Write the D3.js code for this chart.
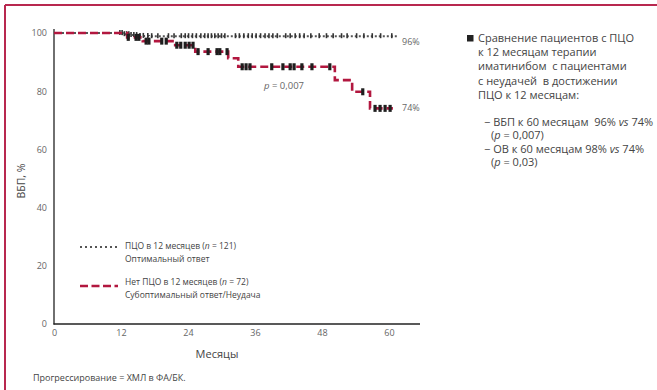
<!DOCTYPE html>
<html><head><meta charset="utf-8">
<script src="https://cdn.jsdelivr.net/npm/d3@7"></script>
<style>body{margin:0;background:#fff}text{font-family:"Open Sans",sans-serif}</style>
</head><body><svg id="c" width="657" height="390"></svg>
<script>
// Data
const xTicks = [0, 12, 24, 36, 48, 60];
const yTicks = [0, 20, 40, 60, 80, 100];
// Red dashed: no PCyR at 12 months (n=72)
const redTimes = [0, 13.1, 15.9, 21.7, 25.3, 31.2, 33.0, 50.3, 53.4, 56.6];
const redSurv  = [100, 98.5, 97.2, 95.8, 93.6, 91.3, 88.4, 83.8, 79.8, 74.1];
const redEnd = 60.7;
const redCensor = [13.3,14.7,15.2,16.5,17.0,19.3,20.1,22.0,22.7,23.5,24.2,24.9,25.8,27.6,29.2,29.7,31.0,33.7,34.4,35.1,39.0,41.0,42.3,43.0,44.4,46.2,49.4,55.3,57.5,58.4,59.3,60.2];
// Dotted: PCyR at 12 months (n=121)
const grayTimes = [0, 12.3, 13.5, 15.0, 17.0];
const graySurv  = [100, 99.6, 99.3, 99.0, 98.9];
const grayEnd = 61.4;
const grayCensor = [11.8,12.2,12.6,13.0,13.4,13.8,14.3,14.8,15.4,16.0,16.8,17.5,18.6,20.5,21.5,22.8,23.5,24.1,24.8,25.5,26.3,27.0,27.6,28.2,28.8,29.4,30.0,30.6,32.5,33.2,34.0,34.8,35.5,36.2,37.0,37.8,38.5,39.2,40.0,41.5,42.3,43.2,44.0,44.8,46.0,47.5,48.8,50.0,51.5,52.5,54.2,55.5,57.0,58.5,60.5];
const endLabels = ["96%", "74%"];

const RED = "#b2173f";
const svg = d3.select("#c");
const x = d3.scaleLinear().domain([0, 60]).range([54, 389]);
const y = d3.scaleLinear().domain([0, 100]).range([324, 33]);

// frame
svg.append("line").attr("x1",5).attr("x2",657).attr("y1",5).attr("y2",5).attr("stroke","#b8284f").attr("stroke-width",2);
svg.append("line").attr("x1",5).attr("x2",5).attr("y1",5).attr("y2",390).attr("stroke","#b8284f").attr("stroke-width",2);

// axes
const ya = svg.append("g").attr("transform","translate(54,0)").call(d3.axisLeft(y).tickValues(yTicks).tickSize(0).tickPadding(7));
ya.select(".domain").remove();
ya.selectAll("text").attr("fill","#666").style("font-size","9px");
const xa = svg.append("g").attr("transform","translate(0,324)").call(d3.axisBottom(x).tickValues(xTicks).tickSize(0).tickPadding(6));
xa.select(".domain").remove();
xa.selectAll("text").attr("fill","#666").style("font-size","9px");
svg.append("line").attr("x1",54).attr("x2",54).attr("y1",29).attr("y2",324.5).attr("stroke","#222").attr("stroke-width",1.3);
svg.append("line").attr("x1",53.5).attr("x2",420).attr("y1",324).attr("y2",324).attr("stroke","#222").attr("stroke-width",1.3);

svg.append("text").attr("transform","translate(25,181) rotate(-90)").attr("text-anchor","middle").attr("fill","#444").style("font-size","10.5px").text("ВБП, %");
svg.append("text").attr("x",217).attr("y",358).attr("text-anchor","middle").attr("fill","#444").style("font-size","11px").text("Месяцы");
svg.append("text").attr("x",33).attr("y",381).attr("fill","#444").style("font-size","9px").text("Прогрессирование = ХМЛ в ФА/БК.");

function stepPts(times, surv, end){
  const pts = [];
  times.forEach((t,i)=>{ if(i>0) pts.push([t, surv[i-1]]); pts.push([t, surv[i]]); });
  pts.push([end, surv[surv.length-1]]);
  return pts;
}
function survAt(times, surv, t){ let v = surv[0]; times.forEach((tt,i)=>{ if(tt<=t) v = surv[i]; }); return v; }
const line = d3.line().x(d=>x(d[0])).y(d=>y(d[1]));

// gray dotted curve
svg.append("path").attr("d", line(stepPts(grayTimes, graySurv, grayEnd))).attr("fill","none")
  .attr("stroke","#555").attr("stroke-width",2).attr("stroke-dasharray","2,2");
svg.selectAll(".gc").data(grayCensor).enter().append("line")
  .attr("x1",d=>x(d)).attr("x2",d=>x(d))
  .attr("y1",d=>y(survAt(grayTimes,graySurv,d))-3).attr("y2",d=>y(survAt(grayTimes,graySurv,d))+2)
  .attr("stroke","#333").attr("stroke-width",1.6);

// red dashed curve
svg.append("path").attr("d", line(stepPts(redTimes, redSurv, redEnd))).attr("fill","none")
  .attr("stroke",RED).attr("stroke-width",2.6).attr("stroke-dasharray","8,4");
svg.selectAll(".rc").data(redCensor).enter().append("line")
  .attr("x1",d=>x(d)).attr("x2",d=>x(d))
  .attr("y1",d=>y(survAt(redTimes,redSurv,d))-3.5).attr("y2",d=>y(survAt(redTimes,redSurv,d))+3.5)
  .attr("stroke","#1e1e1e").attr("stroke-width",3.2);

svg.append("text").attr("x",402).attr("y",45).attr("fill","#666").style("font-size","9px").text(endLabels[0]);
svg.append("text").attr("x",402).attr("y",111).attr("fill","#666").style("font-size","9px").text(endLabels[1]);
const pt = svg.append("text").attr("x",264).attr("y",89).attr("fill","#666").style("font-size","9.5px");
pt.append("tspan").style("font-style","italic").text("p");
pt.append("tspan").text(" = 0,007");

// legend
svg.append("line").attr("x1",80).attr("x2",118).attr("y1",247).attr("y2",247).attr("stroke","#555").attr("stroke-width",2).attr("stroke-dasharray","2,3");
svg.append("line").attr("x1",80).attr("x2",118).attr("y1",286).attr("y2",286).attr("stroke",RED).attr("stroke-width",2.6).attr("stroke-dasharray","8,3.5");
function legText(xx, yy, parts){
  const t = svg.append("text").attr("x",xx).attr("y",yy).attr("fill","#444").style("font-size","8.5px");
  parts.forEach(p=>t.append("tspan").style("font-style",p[1]?"italic":"normal").text(p[0]));
}
legText(125, 249, [["ПЦО в 12 месяцев ("],["n",1],[" = 121)"]]);
legText(125, 262, [["Оптимальный ответ"]]);
legText(125, 285, [["Нет ПЦО в 12 месяцев ("],["n",1],[" = 72)"]]);
legText(125, 298, [["Субоптимальный ответ/Неудача"]]);

// right text
svg.append("rect").attr("x",467).attr("y",35).attr("width",6.5).attr("height",6.5).attr("fill","#222");
const rl = ["Сравнение пациентов с ПЦО","к 12 месяцам терапии","иматинибом  с пациентами","с неудачей  в достижении","ПЦО к 12 месяцам:"];
rl.forEach((s,i)=>svg.append("text").attr("x",478).attr("y",42+i*14.2).attr("fill","#444").style("font-size","11px").style("white-space","pre").text(s));
function rText(xx, yy, parts){
  const t = svg.append("text").attr("x",xx).attr("y",yy).attr("fill","#444").style("font-size","11px").style("white-space","pre");
  parts.forEach(p=>t.append("tspan").style("font-style",p[1]?"italic":"normal").text(p[0]));
}
rText(484, 125.5, [["− ВБП к 60 месяцам  96% "],["vs",1],[" 74%"]]);
rText(491, 139, [["("],["p",1],[" = 0,007)"]]);
rText(484, 152.5, [["− ОВ к 60 месяцам 98% "],["vs",1],[" 74%"]]);
rText(491, 166, [["("],["p",1],[" = 0,03)"]]);
</script></body></html>
